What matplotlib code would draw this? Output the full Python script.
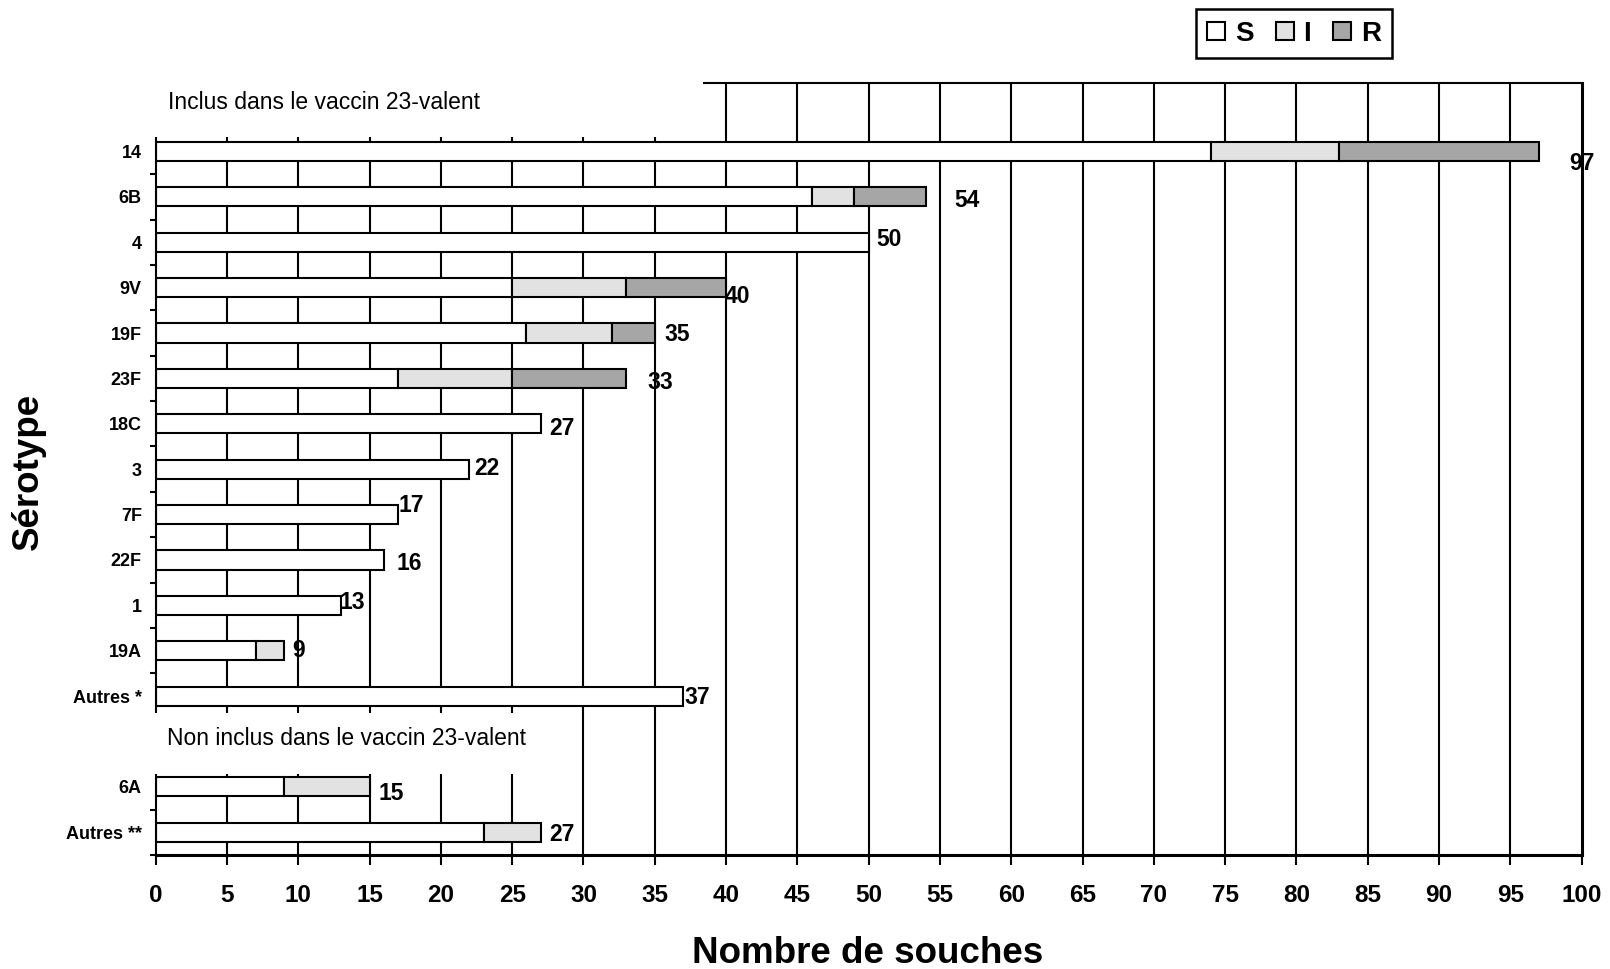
import numpy as np
import matplotlib
matplotlib.use("Agg")
import matplotlib.pyplot as plt
from matplotlib.patches import Rectangle, Patch

plt.rcParams['font.family'] = ['Liberation Sans', 'DejaVu Sans']

# serotypes, top to bottom (last two are the "non inclus" group)
serotypes = ['14', '6B', '4', '9V', '19F', '23F', '18C', '3', '7F', '22F', '1', '19A',
             'Autres *', '6A', 'Autres **']
n_inclus = 13
sens = [74, 46, 50, 25, 26, 17, 27, 22, 17, 16, 13, 7, 37, 9, 23]      # S
inter = [9, 3, 0, 8, 6, 8, 0, 0, 0, 0, 0, 2, 0, 6, 4]                  # I
resist = [14, 5, 0, 7, 3, 8, 0, 0, 0, 0, 0, 0, 0, 0, 0]                # R

# label nudges (layout only)
lab_dx = [3.0, 2.9, 1.4, 0.8, 1.6, 2.4, 1.5, 1.2, 0.9, 1.8, 0.8, 1.0, 1.0, 1.5, 1.5]
lab_dy = [0.27, 0.08, -0.06, 0.2, 0.04, 0.08, 0.11, -0.01, -0.19, 0.07, -0.06, -0.01, 0.04, 0.15, 0.04]

c_S, c_I, c_R = 'white', '#e2e2e2', '#a6a6a6'

S = np.array(sens)
I = np.array(inter)
R = np.array(resist)
tot = S + I + R
ypos = np.array([i if i < n_inclus else i + 1 for i in range(len(serotypes))])

fig = plt.figure(figsize=(16.1, 9.69), dpi=100)
ax = fig.add_axes([0.0967, 0.1176, 0.8857, 0.7964])

h = 0.42
for x in range(5, 100, 5):
    ax.axvline(x, color='black', lw=1.5, zorder=1)

kw = dict(height=h, edgecolor='black', linewidth=1.5, zorder=2)
ax.barh(ypos, S, color=c_S, **kw)
m = I > 0
ax.barh(ypos[m], I[m], left=S[m], color=c_I, **kw)
m = R > 0
ax.barh(ypos[m], R[m], left=(S + I)[m], color=c_R, **kw)

for y, t, dx, dy in zip(ypos, tot, lab_dx, lab_dy):
    ax.text(t + dx, y + dy, str(t), ha='center', va='center', fontsize=16.5,
            fontweight='bold', zorder=5)

ax.set_xlim(0, 100)
ax.set_ylim(15.5, -1.5)
ax.set_xticks(range(0, 101, 5))
ax.set_yticks(ypos)
ax.set_yticklabels(serotypes, fontsize=13, fontweight='bold')
ax.set_yticks(np.arange(-0.5, 16, 1), minor=True)
for lab in ax.get_xticklabels():
    lab.set_fontsize(17.5)
    lab.set_fontweight('bold')
ax.tick_params(axis='x', length=7.2, width=1.5, pad=14)
ax.tick_params(axis='y', which='major', length=0, pad=10)
ax.tick_params(axis='y', which='minor', length=4.5, width=1.5)

ax.spines['left'].set_linewidth(1.5)
ax.spines['top'].set_linewidth(1.5)
ax.spines['bottom'].set_linewidth(2.2)
ax.spines['right'].set_linewidth(2.2)

# white boxes behind the group titles
ax.add_patch(Rectangle((-3, -1.9), 41.4, 1.58, facecolor='white', edgecolor='none',
                       zorder=3, clip_on=False))
ax.add_patch(Rectangle((-3, 12.38), 31, 1.34, facecolor='white', edgecolor='none',
                       zorder=3, clip_on=False))
ax.text(0.85, -1.08, 'Inclus dans le vaccin 23-valent', fontsize=16.5, va='center', zorder=5)
ax.text(0.77, 12.93, 'Non inclus dans le vaccin 23-valent', fontsize=16.5, va='center', zorder=5)

fig.text(0.539, 0.0062, 'Nombre de souches', ha='center', va='baseline',
         fontsize=26.5, fontweight='bold')
fig.text(0.0174, 0.513, 'Sérotype', ha='center', va='center', rotation=90,
         fontsize=26.5, fontweight='bold')

handles = [Patch(facecolor=c, edgecolor='black', linewidth=1.5) for c in (c_S, c_I, c_R)]
leg = fig.legend(handles, ['S', 'I', 'R'], loc='center', bbox_to_anchor=(0.8037, 0.9654),
                 ncol=3, fancybox=False, edgecolor='black', framealpha=1,
                 prop={'size': 20, 'weight': 'bold'}, handlelength=0.65, handleheight=0.6,
                 handletextpad=0.35, columnspacing=0.8, borderpad=0.4)
leg.get_frame().set_linewidth(1.8)

fig.savefig('out.png', dpi=100)
